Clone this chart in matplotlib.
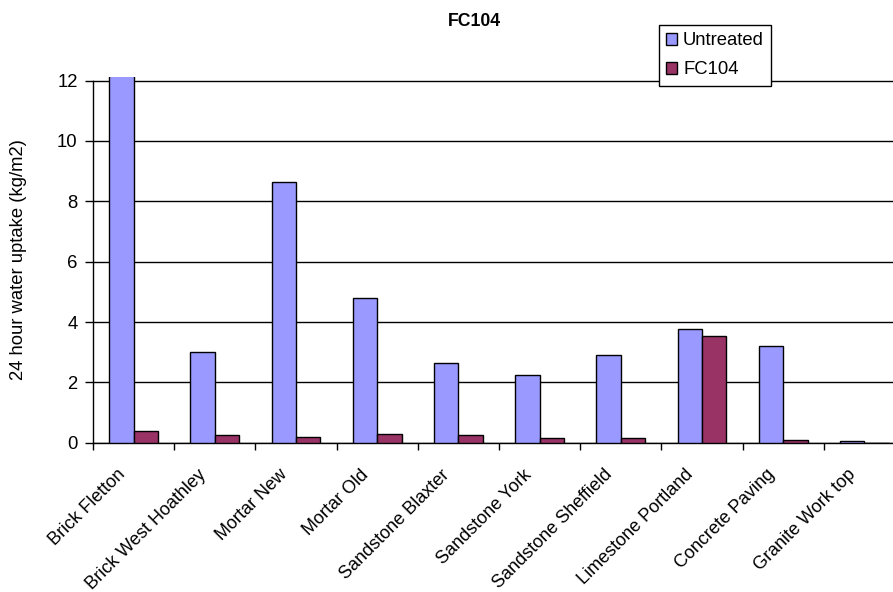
import matplotlib.pyplot as plt
import matplotlib.transforms as mtransforms
import numpy as np

plt.rcParams['font.family'] = ['Liberation Sans', 'DejaVu Sans']

materials = ['Brick Fletton', 'Brick West Hoathley', 'Mortar New', 'Mortar Old',
             'Sandstone Blaxter', 'Sandstone York', 'Sandstone Sheffield',
             'Limestone Portland', 'Concrete Paving', 'Granite Work top']
untreated = [13.5, 3.0, 8.64, 4.8, 2.63, 2.24, 2.9, 3.77, 3.19, 0.06]
fc104 = [0.4, 0.26, 0.2, 0.3, 0.26, 0.15, 0.15, 3.52, 0.09, 0.0]

fig = plt.figure(figsize=(8.93, 5.92), dpi=100)
# plot area runs slightly past the right edge of the image
ax = fig.add_axes([93 / 893, 1 - 442.7 / 592, 812 / 893, 366 / 592])

x = np.arange(len(materials))
w = 0.3
ax.bar(x - w / 2, untreated, w, color='#9999FF', edgecolor='black', linewidth=1, label='Untreated', zorder=3)
ax.bar(x + w / 2, fc104, w, color='#993366', edgecolor='black', linewidth=1, label='FC104', zorder=3)

ax.set_xlim(-0.5, len(materials) - 0.5)
ax.set_ylim(0, 12.13)
ax.set_yticks(np.arange(0, 13, 2))
ax.yaxis.grid(True, color='black', linewidth=1)
ax.set_axisbelow(True)

ax.spines['top'].set_visible(False)
ax.spines['right'].set_visible(False)
ax.spines['left'].set_bounds(0, 12)
for s in ('left', 'bottom'):
    ax.spines[s].set_linewidth(1)

fs = 13.3
ax.set_xticks(x)
ax.set_xticks(np.arange(-0.5, len(materials), 1), minor=True)
ax.tick_params(axis='x', which='major', length=0, pad=17)
ax.tick_params(axis='x', which='minor', length=5, width=1, direction='out')
ax.tick_params(axis='y', length=6, width=1, labelsize=fs, pad=5)
ax.set_xticklabels(materials, rotation=45, ha='right', va='top',
                   rotation_mode='anchor', fontsize=13)
shift = mtransforms.ScaledTranslation(-17 / 100, 0, fig.dpi_scale_trans)
for lbl in ax.get_xticklabels():
    lbl.set_transform(lbl.get_transform() + shift)

ax.set_ylabel('24 hour water uptake (kg/m2)', fontsize=fs)
ax.yaxis.set_label_coords(-0.081, 0.5)
fig.text(474 / 893, 1 - 22 / 592, 'FC104', ha='center', va='center', fontsize=12.7, fontweight='bold')

leg = ax.legend(loc='upper left', bbox_to_anchor=(659 / 893, 1 - 25 / 592),
                bbox_transform=fig.transFigure, fontsize=fs, frameon=True,
                fancybox=False, edgecolor='black', framealpha=1,
                handlelength=0.6, handleheight=0.6, handletextpad=0.3,
                borderpad=0.4, labelspacing=0.65, borderaxespad=0)
leg.get_frame().set_linewidth(1)

fig.savefig('out.png', dpi=100)
